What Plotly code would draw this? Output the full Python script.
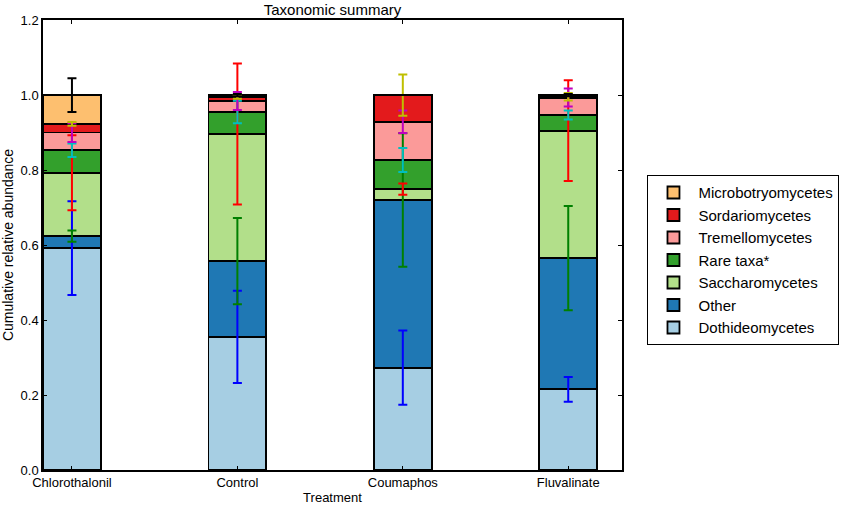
import numpy as np
import plotly.graph_objects as go

# Taxonomic summary: cumulative relative abundance per treatment
treatments = ["Chlorothalonil", "Control", "Coumaphos", "Fluvalinate"]

taxa = ["Dothideomycetes", "Other", "Saccharomycetes", "Rare taxa*",
        "Tremellomycetes", "Sordariomycetes", "Microbotryomycetes"]

dothideomycetes = [0.592, 0.355, 0.273, 0.215]
other = [0.032, 0.202, 0.447, 0.350]
saccharomycetes = [0.169, 0.339, 0.029, 0.340]
rare_taxa = [0.060, 0.059, 0.078, 0.042]
tremellomycetes = [0.047, 0.029, 0.102, 0.046]
sordariomycetes = [0.023, 0.011, 0.071, 0.002]
microbotryomycetes = [0.077, 0.005, 0.000, 0.005]

# standard errors (half-lengths)
dothideomycetes_err = [0.125, 0.123, 0.099, 0.033]
other_err = [0.015, 0.115, 0.178, 0.139]
saccharomycetes_err = [0.100, 0.188, 0.015, 0.134]
rare_taxa_err = [0.018, 0.030, 0.032, 0.012]
tremellomycetes_err = [0.025, 0.024, 0.030, 0.024]
sordariomycetes_err = [0.005, 0.005, 0.055, 0.010]
microbotryomycetes_err = [0.045, 0.003, 0.000, 0.003]

values = [dothideomycetes, other, saccharomycetes, rare_taxa,
          tremellomycetes, sordariomycetes, microbotryomycetes]
errors = [dothideomycetes_err, other_err, saccharomycetes_err, rare_taxa_err,
          tremellomycetes_err, sordariomycetes_err, microbotryomycetes_err]

bar_colors = ["#a6cee3", "#1f78b4", "#b2df8a", "#33a02c",
              "#fb9a99", "#e31a1c", "#fdbf6f"]
err_colors = ["#0000ff", "#008000", "#ff0000", "#00bfbf",
              "#bf00bf", "#bfbf00", "#000000"]

x = np.arange(len(treatments))
tops = np.cumsum(np.array(values), axis=0)

fig = go.Figure()

for name, v, c in zip(taxa, values, bar_colors):
    fig.add_trace(go.Bar(
        x=x, y=v, name=name, width=0.35,
        marker=dict(color=c, line=dict(color="black", width=1.8)),
    ))

# error bars sit at the cumulative top of each segment, drawn over the bars
for top, e, c in zip(tops, errors, err_colors):
    fig.add_trace(go.Scatter(
        x=x, y=top, mode="markers",
        marker=dict(size=1, opacity=0),
        error_y=dict(type="data", array=e, color=c, thickness=2, width=4.5),
        showlegend=False, hoverinfo="skip",
    ))

fig.update_layout(
    width=851, height=506,
    barmode="stack",
    template="simple_white",
    font=dict(family="Liberation Sans, Arial, sans-serif", size=13, color="black"),
    title=dict(text="Taxonomic summary", xref="paper", x=0.5, xanchor="center",
               y=0.98, yanchor="middle", font=dict(size=15)),
    margin=dict(l=43, r=225, t=20, b=36),
    legend=dict(
        x=1.044, y=0.655, xanchor="left", yanchor="top",
        traceorder="reversed",
        bordercolor="black", borderwidth=1,
        font=dict(size=15),
        itemwidth=40,
        tracegroupgap=0,
    ),
    plot_bgcolor="white",
)

fig.update_xaxes(
    range=[-0.175, 3.325], automargin=False,
    tickvals=x, ticktext=treatments, tickfont=dict(size=13),
    title=dict(text="Treatment", standoff=4, font=dict(size=13)),
    showline=True, linecolor="black", linewidth=1.5, mirror="ticks",
    ticks="inside", ticklen=4, tickcolor="black", showgrid=False,
)
fig.update_yaxes(
    range=[0, 1.2], dtick=0.2, tickformat=".1f", automargin=False,
    tickfont=dict(size=13),
    title=dict(text="Cumulative relative abundance", standoff=6, font=dict(size=14)),
    showline=True, linecolor="black", linewidth=1.5, mirror="ticks",
    ticks="inside", ticklen=4, tickcolor="black", showgrid=False,
)

# the page body has a default 8px margin; drop it so the figure fills the window
fig.write_html("out.html", config={"displayModeBar": False},
               post_script="document.body.style.margin='0';")
